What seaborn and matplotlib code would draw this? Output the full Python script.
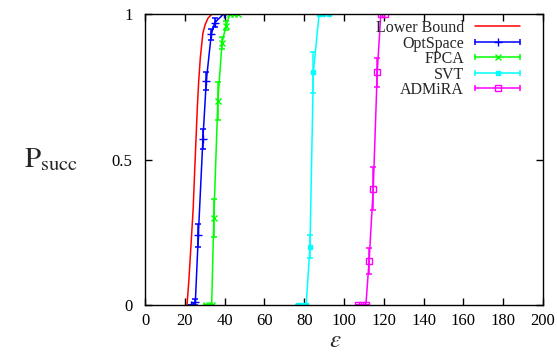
import numpy as np
import pandas as pd
import matplotlib
matplotlib.use("Agg")
import matplotlib.pyplot as plt
import seaborn as sns
from matplotlib.lines import Line2D
from matplotlib.legend_handler import HandlerBase

# ---------------- data ----------------
lb_eps = [21.1, 22.0, 22.8, 24.2, 24.9, 26.3, 27.0, 27.8, 29.1, 30.3, 31.7, 33.7]
lb_p = [0.0, 0.08, 0.17, 0.33, 0.45, 0.68, 0.77, 0.85, 0.935, 0.965, 0.986, 1.0]

opt_eps = [23.3, 25.3, 26.8, 29.1, 30.8, 33.3, 35.0, 39.5]
opt_p = [0.0, 0.01, 0.24, 0.57, 0.77, 0.93, 0.97, 1.0]
opt_err = [0.0, 0.01, 0.04, 0.035, 0.03, 0.02, 0.015, 0.0]

fpca_eps = [30.5, 32.0, 33.5, 34.6, 36.6, 38.7, 40.7, 42.7, 44.5, 46.5]
fpca_p = [0.0, 0.0, 0.0, 0.30, 0.70, 0.90, 0.96, 1.0, 1.0, 1.0]
fpca_err = [0.0, 0.0, 0.0, 0.065, 0.065, 0.02, 0.015, 0.0, 0.0, 0.0]

svt_eps = [77.0, 79.0, 81.0, 82.9, 84.6, 87.5, 89.5, 92.5]
svt_p = [0.0, 0.0, 0.0, 0.20, 0.80, 1.0, 1.0, 1.0]
svt_err = [0.0, 0.0, 0.0, 0.04, 0.07, 0.0, 0.0, 0.0]

adm_eps = [107.0, 109.0, 111.0, 112.6, 114.7, 116.7, 118.5, 120.5]
adm_p = [0.0, 0.0, 0.0, 0.15, 0.40, 0.80, 1.0, 1.0]
adm_err = [0.0, 0.0, 0.0, 0.045, 0.075, 0.05, 0.0, 0.0]

labels = ["Lower Bound", "OptSpace", "FPCA", "SVT", "ADMiRA"]
x_ticks = [0, 20, 40, 60, 80, 100, 120, 140, 160, 180, 200]
y_ticks = [0, 0.5, 1]
y_ticklabels = ["0", "0.5", "1"]

# ---------------- style ----------------
sns.set_theme(style="ticks")
plt.rcParams["font.family"] = ["Liberation Serif", "DejaVu Serif"]
plt.rcParams["mathtext.fontset"] = "stix"

W, H = 557, 353
fig = plt.figure(figsize=(W / 100, H / 100), dpi=100)
ax = fig.add_axes([145 / W, 1 - 305 / H, (543 - 145) / W, (305 - 14) / H])

lw = 1.1
red, blue, green, cyan, mag = "#ff0000", "#0000ff", "#00ff00", "#00ffff", "#ff00ff"

sns.lineplot(x=lb_eps, y=lb_p, ax=ax, color=red, lw=lw, sort=False)

series = [
    (opt_eps, opt_p, opt_err, blue, "+", blue, 6),
    (fpca_eps, fpca_p, fpca_err, green, "x", green, 4.5),
    (svt_eps, svt_p, svt_err, cyan, "s", cyan, 3.5),
    (adm_eps, adm_p, adm_err, mag, "s", "none", 4.5),
]
for xs, ys, es, c, m, mfc, ms in series:
    sns.lineplot(x=xs, y=ys, ax=ax, color=c, lw=lw, sort=False,
                 marker=m, markersize=ms, markerfacecolor=mfc,
                 markeredgecolor=c, markeredgewidth=1.0)
    ax.errorbar(xs, ys, yerr=es, fmt="none", ecolor=c, elinewidth=lw,
                capsize=2.5, capthick=lw)

ax.set_xlim(0, 200)
ax.set_ylim(0, 1)
ax.set_xticks(x_ticks)
ax.set_xticklabels([str(t) for t in x_ticks])
ax.set_yticks(y_ticks)
ax.set_yticklabels(y_ticklabels)
ax.tick_params(direction="in", length=5, width=1, top=True, right=True,
               labelsize=12, colors="black")
ax.tick_params(axis="x", pad=6)
ax.tick_params(axis="y", pad=9)
for s in ax.spines.values():
    s.set_color("black")
    s.set_linewidth(1.0)
ax.set_xlabel("")
ax.set_ylabel("")

fig.text(51 / W, 1 - 160 / H, r"$\mathrm{P}_{\mathrm{succ}}$", fontsize=21,
         ha="center", va="center")
fig.text(335 / W, 1 - 352 / H, r"$\epsilon$", fontsize=18, ha="center", va="bottom")


# ---------------- legend (gnuplot style) ----------------
class ErrHandler(HandlerBase):
    def __init__(self, color, marker=None, mfc=None, ms=5, caps=True):
        super().__init__()
        self.c, self.m, self.mfc, self.ms, self.caps = color, marker, mfc, ms, caps

    def create_artists(self, legend, orig_handle, xdescent, ydescent, width,
                       height, fontsize, trans):
        y = height / 2 - ydescent
        x0, x1 = -xdescent, width - xdescent
        arts = [Line2D([x0, x1], [y, y], color=self.c, lw=lw)]
        if self.caps:
            arts.append(Line2D([x0, x1], [y, y], ls="", marker="|", color=self.c,
                               markersize=5, markeredgewidth=lw))
        if self.m:
            arts.append(Line2D([(x0 + x1) / 2], [y], ls="", marker=self.m,
                               color=self.c, markerfacecolor=self.mfc,
                               markeredgecolor=self.c, markersize=self.ms,
                               markeredgewidth=1.0))
        for a in arts:
            a.set_transform(trans)
        return arts


proxies = [Line2D([], [], color=c) for c in [red, blue, green, cyan, mag]]
hmap = {
    proxies[0]: ErrHandler(red, None, caps=False),
    proxies[1]: ErrHandler(blue, "+", blue, 6),
    proxies[2]: ErrHandler(green, "x", green, 4.5),
    proxies[3]: ErrHandler(cyan, "s", cyan, 3.5),
    proxies[4]: ErrHandler(mag, "s", "none", 4.5),
}
ax.legend(proxies, labels, handler_map=hmap, loc="upper right",
          bbox_to_anchor=((520 - 145) / 398, (305 - 20) / 291),
          frameon=False, markerfirst=False, fontsize=11.5, borderpad=0,
          borderaxespad=0, handlelength=2.8, handletextpad=0.7,
          labelspacing=-0.03)

fig.savefig("out.png", dpi=100)
